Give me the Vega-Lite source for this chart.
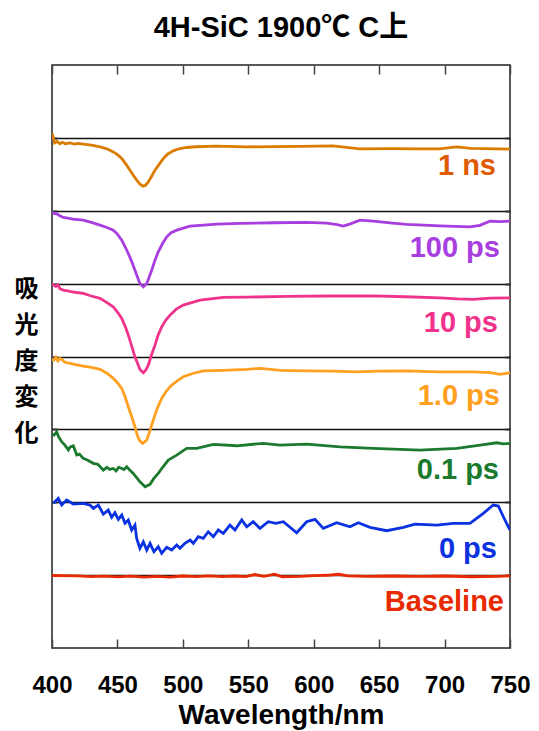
{
  "$schema": "https://vega.github.io/schema/vega-lite/v6.json",
  "width": 458,
  "height": 583,
  "autosize": "none",
  "padding": {"left": 52, "top": 65, "right": 29, "bottom": 83},
  "title": {
    "text": "4H-SiC 1900℃ C上",
    "font": "Liberation Sans, Noto Sans CJK JP",
    "fontSize": 29,
    "fontWeight": "bold",
    "color": "#000000",
    "anchor": "middle",
    "offset": 21
  },
  "config": {
    "view": {"stroke": "#222222", "strokeWidth": 1.5},
    "axis": {"domain": false}
  },
  "datasets": {
    "spectra": [
      {"s": "1 ns", "x": 400, "y": 7.04}, {"s": "1 ns", "x": 400.5, "y": 7.04}, {"s": "1 ns", "x": 402, "y": 6.93}, {"s": "1 ns", "x": 404, "y": 6.95}, {"s": "1 ns", "x": 406, "y": 6.92}, {"s": "1 ns", "x": 408, "y": 6.94}, {"s": "1 ns", "x": 410, "y": 6.92}, {"s": "1 ns", "x": 413.8, "y": 6.93}, {"s": "1 ns", "x": 417, "y": 6.915}, {"s": "1 ns", "x": 420, "y": 6.925}, {"s": "1 ns", "x": 423.9, "y": 6.914}, {"s": "1 ns", "x": 430, "y": 6.9}, {"s": "1 ns", "x": 436.7, "y": 6.877}, {"s": "1 ns", "x": 442, "y": 6.85}, {"s": "1 ns", "x": 446.8, "y": 6.808}, {"s": "1 ns", "x": 450, "y": 6.77}, {"s": "1 ns", "x": 453.3, "y": 6.717}, {"s": "1 ns", "x": 456.5, "y": 6.64}, {"s": "1 ns", "x": 459.6, "y": 6.557}, {"s": "1 ns", "x": 462, "y": 6.49}, {"s": "1 ns", "x": 464.7, "y": 6.42}, {"s": "1 ns", "x": 467, "y": 6.37}, {"s": "1 ns", "x": 469.3, "y": 6.337}, {"s": "1 ns", "x": 471.5, "y": 6.35}, {"s": "1 ns", "x": 473.6, "y": 6.396}, {"s": "1 ns", "x": 476, "y": 6.47}, {"s": "1 ns", "x": 478.7, "y": 6.557}, {"s": "1 ns", "x": 482, "y": 6.64}, {"s": "1 ns", "x": 485.1, "y": 6.717}, {"s": "1 ns", "x": 488.5, "y": 6.78}, {"s": "1 ns", "x": 492.7, "y": 6.822}, {"s": "1 ns", "x": 497, "y": 6.85}, {"s": "1 ns", "x": 502.9, "y": 6.868}, {"s": "1 ns", "x": 510, "y": 6.878}, {"s": "1 ns", "x": 525.9, "y": 6.886}, {"s": "1 ns", "x": 548.8, "y": 6.877}, {"s": "1 ns", "x": 570, "y": 6.88}, {"s": "1 ns", "x": 590, "y": 6.882}, {"s": "1 ns", "x": 614.7, "y": 6.89}, {"s": "1 ns", "x": 625, "y": 6.87}, {"s": "1 ns", "x": 635, "y": 6.849}, {"s": "1 ns", "x": 660, "y": 6.852}, {"s": "1 ns", "x": 680, "y": 6.85}, {"s": "1 ns", "x": 696, "y": 6.849}, {"s": "1 ns", "x": 709, "y": 6.877}, {"s": "1 ns", "x": 720, "y": 6.855}, {"s": "1 ns", "x": 740, "y": 6.85}, {"s": "1 ns", "x": 750, "y": 6.845},

      {"s": "100 ps", "x": 400, "y": 5.98}, {"s": "100 ps", "x": 401.5, "y": 5.963}, {"s": "100 ps", "x": 404, "y": 5.955}, {"s": "100 ps", "x": 406, "y": 5.93}, {"s": "100 ps", "x": 408.6, "y": 5.908}, {"s": "100 ps", "x": 412, "y": 5.9}, {"s": "100 ps", "x": 416, "y": 5.885}, {"s": "100 ps", "x": 423.9, "y": 5.871}, {"s": "100 ps", "x": 430, "y": 5.84}, {"s": "100 ps", "x": 436.7, "y": 5.802}, {"s": "100 ps", "x": 442, "y": 5.77}, {"s": "100 ps", "x": 446.8, "y": 5.734}, {"s": "100 ps", "x": 450, "y": 5.68}, {"s": "100 ps", "x": 453.3, "y": 5.597}, {"s": "100 ps", "x": 456, "y": 5.5}, {"s": "100 ps", "x": 458.3, "y": 5.414}, {"s": "100 ps", "x": 461, "y": 5.3}, {"s": "100 ps", "x": 463.4, "y": 5.185}, {"s": "100 ps", "x": 465.5, "y": 5.08}, {"s": "100 ps", "x": 467.2, "y": 5.003}, {"s": "100 ps", "x": 469.8, "y": 4.956}, {"s": "100 ps", "x": 472.4, "y": 5.003}, {"s": "100 ps", "x": 474.3, "y": 5.09}, {"s": "100 ps", "x": 476.2, "y": 5.185}, {"s": "100 ps", "x": 478.5, "y": 5.31}, {"s": "100 ps", "x": 481.2, "y": 5.436}, {"s": "100 ps", "x": 484.5, "y": 5.55}, {"s": "100 ps", "x": 487.7, "y": 5.642}, {"s": "100 ps", "x": 491, "y": 5.7}, {"s": "100 ps", "x": 495.3, "y": 5.734}, {"s": "100 ps", "x": 505.5, "y": 5.789}, {"s": "100 ps", "x": 525.9, "y": 5.816}, {"s": "100 ps", "x": 543.7, "y": 5.826}, {"s": "100 ps", "x": 570, "y": 5.835}, {"s": "100 ps", "x": 594.6, "y": 5.84}, {"s": "100 ps", "x": 610, "y": 5.83}, {"s": "100 ps", "x": 618, "y": 5.81}, {"s": "100 ps", "x": 622.6, "y": 5.789}, {"s": "100 ps", "x": 628, "y": 5.82}, {"s": "100 ps", "x": 635.4, "y": 5.871}, {"s": "100 ps", "x": 645.5, "y": 5.857}, {"s": "100 ps", "x": 660, "y": 5.83}, {"s": "100 ps", "x": 671.1, "y": 5.812}, {"s": "100 ps", "x": 696.5, "y": 5.793}, {"s": "100 ps", "x": 719.4, "y": 5.779}, {"s": "100 ps", "x": 727, "y": 5.8}, {"s": "100 ps", "x": 734.7, "y": 5.857}, {"s": "100 ps", "x": 742, "y": 5.85}, {"s": "100 ps", "x": 750, "y": 5.857},

      {"s": "10 ps", "x": 400, "y": 4.99}, {"s": "10 ps", "x": 401.5, "y": 4.979}, {"s": "10 ps", "x": 403, "y": 4.96}, {"s": "10 ps", "x": 404.5, "y": 4.985}, {"s": "10 ps", "x": 406, "y": 4.93}, {"s": "10 ps", "x": 408.6, "y": 4.911}, {"s": "10 ps", "x": 412, "y": 4.9}, {"s": "10 ps", "x": 416, "y": 4.885}, {"s": "10 ps", "x": 423.9, "y": 4.866}, {"s": "10 ps", "x": 430, "y": 4.83}, {"s": "10 ps", "x": 436.7, "y": 4.797}, {"s": "10 ps", "x": 442, "y": 4.74}, {"s": "10 ps", "x": 446.8, "y": 4.682}, {"s": "10 ps", "x": 450, "y": 4.61}, {"s": "10 ps", "x": 453.3, "y": 4.523}, {"s": "10 ps", "x": 456, "y": 4.41}, {"s": "10 ps", "x": 458.3, "y": 4.294}, {"s": "10 ps", "x": 461, "y": 4.14}, {"s": "10 ps", "x": 463.4, "y": 3.996}, {"s": "10 ps", "x": 465.5, "y": 3.9}, {"s": "10 ps", "x": 467.2, "y": 3.823}, {"s": "10 ps", "x": 469.8, "y": 3.777}, {"s": "10 ps", "x": 471.5, "y": 3.81}, {"s": "10 ps", "x": 473.6, "y": 3.882}, {"s": "10 ps", "x": 476, "y": 4.02}, {"s": "10 ps", "x": 478.7, "y": 4.156}, {"s": "10 ps", "x": 481, "y": 4.29}, {"s": "10 ps", "x": 483.8, "y": 4.407}, {"s": "10 ps", "x": 487, "y": 4.5}, {"s": "10 ps", "x": 490.2, "y": 4.568}, {"s": "10 ps", "x": 495, "y": 4.65}, {"s": "10 ps", "x": 500.3, "y": 4.705}, {"s": "10 ps", "x": 513.1, "y": 4.774}, {"s": "10 ps", "x": 530.9, "y": 4.811}, {"s": "10 ps", "x": 548.8, "y": 4.815}, {"s": "10 ps", "x": 580, "y": 4.825}, {"s": "10 ps", "x": 610, "y": 4.83}, {"s": "10 ps", "x": 645.5, "y": 4.833}, {"s": "10 ps", "x": 670, "y": 4.82}, {"s": "10 ps", "x": 696.5, "y": 4.805}, {"s": "10 ps", "x": 710, "y": 4.79}, {"s": "10 ps", "x": 721.9, "y": 4.783}, {"s": "10 ps", "x": 735, "y": 4.8}, {"s": "10 ps", "x": 750, "y": 4.805},

      {"s": "1.0 ps", "x": 400, "y": 3.96}, {"s": "1.0 ps", "x": 401.5, "y": 3.951}, {"s": "1.0 ps", "x": 403, "y": 3.99}, {"s": "1.0 ps", "x": 404.5, "y": 3.94}, {"s": "1.0 ps", "x": 406, "y": 3.975}, {"s": "1.0 ps", "x": 407.4, "y": 3.96}, {"s": "1.0 ps", "x": 410, "y": 3.92}, {"s": "1.0 ps", "x": 413.8, "y": 3.905}, {"s": "1.0 ps", "x": 418, "y": 3.89}, {"s": "1.0 ps", "x": 423.9, "y": 3.868}, {"s": "1.0 ps", "x": 430, "y": 3.85}, {"s": "1.0 ps", "x": 436.7, "y": 3.823}, {"s": "1.0 ps", "x": 442, "y": 3.77}, {"s": "1.0 ps", "x": 446.8, "y": 3.7}, {"s": "1.0 ps", "x": 450, "y": 3.64}, {"s": "1.0 ps", "x": 453.3, "y": 3.562}, {"s": "1.0 ps", "x": 456, "y": 3.44}, {"s": "1.0 ps", "x": 458.3, "y": 3.31}, {"s": "1.0 ps", "x": 461, "y": 3.17}, {"s": "1.0 ps", "x": 463.4, "y": 3.036}, {"s": "1.0 ps", "x": 465, "y": 2.93}, {"s": "1.0 ps", "x": 466.7, "y": 2.853}, {"s": "1.0 ps", "x": 469.3, "y": 2.808}, {"s": "1.0 ps", "x": 472.4, "y": 2.853}, {"s": "1.0 ps", "x": 475, "y": 2.99}, {"s": "1.0 ps", "x": 477.4, "y": 3.128}, {"s": "1.0 ps", "x": 480.5, "y": 3.29}, {"s": "1.0 ps", "x": 483.8, "y": 3.425}, {"s": "1.0 ps", "x": 487.5, "y": 3.53}, {"s": "1.0 ps", "x": 491.5, "y": 3.608}, {"s": "1.0 ps", "x": 496, "y": 3.67}, {"s": "1.0 ps", "x": 500.3, "y": 3.722}, {"s": "1.0 ps", "x": 508, "y": 3.77}, {"s": "1.0 ps", "x": 515.6, "y": 3.804}, {"s": "1.0 ps", "x": 530, "y": 3.81}, {"s": "1.0 ps", "x": 548.8, "y": 3.823}, {"s": "1.0 ps", "x": 558.9, "y": 3.837}, {"s": "1.0 ps", "x": 575, "y": 3.81}, {"s": "1.0 ps", "x": 594.6, "y": 3.804}, {"s": "1.0 ps", "x": 615, "y": 3.8}, {"s": "1.0 ps", "x": 632.8, "y": 3.79}, {"s": "1.0 ps", "x": 650, "y": 3.8}, {"s": "1.0 ps", "x": 671.1, "y": 3.804}, {"s": "1.0 ps", "x": 695, "y": 3.79}, {"s": "1.0 ps", "x": 721.9, "y": 3.79}, {"s": "1.0 ps", "x": 735, "y": 3.78}, {"s": "1.0 ps", "x": 742.3, "y": 3.754}, {"s": "1.0 ps", "x": 750, "y": 3.776},

      {"s": "0.1 ps", "x": 400, "y": 2.93}, {"s": "0.1 ps", "x": 401.5, "y": 2.922}, {"s": "0.1 ps", "x": 403.6, "y": 2.967}, {"s": "0.1 ps", "x": 405, "y": 2.9}, {"s": "0.1 ps", "x": 407.4, "y": 2.83}, {"s": "0.1 ps", "x": 410, "y": 2.78}, {"s": "0.1 ps", "x": 412.5, "y": 2.716}, {"s": "0.1 ps", "x": 414, "y": 2.76}, {"s": "0.1 ps", "x": 416.3, "y": 2.775}, {"s": "0.1 ps", "x": 418.9, "y": 2.647}, {"s": "0.1 ps", "x": 421, "y": 2.66}, {"s": "0.1 ps", "x": 423.9, "y": 2.602}, {"s": "0.1 ps", "x": 427, "y": 2.58}, {"s": "0.1 ps", "x": 431.6, "y": 2.534}, {"s": "0.1 ps", "x": 435, "y": 2.52}, {"s": "0.1 ps", "x": 439.2, "y": 2.442}, {"s": "0.1 ps", "x": 442, "y": 2.48}, {"s": "0.1 ps", "x": 444, "y": 2.45}, {"s": "0.1 ps", "x": 446.8, "y": 2.464}, {"s": "0.1 ps", "x": 449, "y": 2.43}, {"s": "0.1 ps", "x": 451, "y": 2.48}, {"s": "0.1 ps", "x": 453.3, "y": 2.464}, {"s": "0.1 ps", "x": 455, "y": 2.45}, {"s": "0.1 ps", "x": 457.1, "y": 2.487}, {"s": "0.1 ps", "x": 459, "y": 2.45}, {"s": "0.1 ps", "x": 462.1, "y": 2.396}, {"s": "0.1 ps", "x": 465, "y": 2.33}, {"s": "0.1 ps", "x": 467.2, "y": 2.281}, {"s": "0.1 ps", "x": 469, "y": 2.25}, {"s": "0.1 ps", "x": 471.1, "y": 2.213}, {"s": "0.1 ps", "x": 474.9, "y": 2.246}, {"s": "0.1 ps", "x": 478, "y": 2.33}, {"s": "0.1 ps", "x": 481.2, "y": 2.396}, {"s": "0.1 ps", "x": 485, "y": 2.49}, {"s": "0.1 ps", "x": 488.9, "y": 2.579}, {"s": "0.1 ps", "x": 495.3, "y": 2.647}, {"s": "0.1 ps", "x": 502.9, "y": 2.739}, {"s": "0.1 ps", "x": 510.6, "y": 2.739}, {"s": "0.1 ps", "x": 523.3, "y": 2.794}, {"s": "0.1 ps", "x": 541.1, "y": 2.775}, {"s": "0.1 ps", "x": 561.5, "y": 2.808}, {"s": "0.1 ps", "x": 574.2, "y": 2.785}, {"s": "0.1 ps", "x": 594.6, "y": 2.798}, {"s": "0.1 ps", "x": 620.1, "y": 2.761}, {"s": "0.1 ps", "x": 645.5, "y": 2.739}, {"s": "0.1 ps", "x": 681.2, "y": 2.716}, {"s": "0.1 ps", "x": 709.3, "y": 2.739}, {"s": "0.1 ps", "x": 730, "y": 2.79}, {"s": "0.1 ps", "x": 739.8, "y": 2.816}, {"s": "0.1 ps", "x": 745, "y": 2.8}, {"s": "0.1 ps", "x": 750, "y": 2.808},

      {"s": "0 ps", "x": 401, "y": 1.985}, {"s": "0 ps", "x": 404.8, "y": 2.053}, {"s": "0 ps", "x": 407.4, "y": 1.962}, {"s": "0 ps", "x": 411.2, "y": 2.03}, {"s": "0 ps", "x": 416.3, "y": 1.975}, {"s": "0 ps", "x": 423.9, "y": 1.985}, {"s": "0 ps", "x": 429, "y": 1.962}, {"s": "0 ps", "x": 431.6, "y": 1.916}, {"s": "0 ps", "x": 435.4, "y": 1.962}, {"s": "0 ps", "x": 439.2, "y": 1.838}, {"s": "0 ps", "x": 443, "y": 1.893}, {"s": "0 ps", "x": 445.6, "y": 1.793}, {"s": "0 ps", "x": 448.1, "y": 1.856}, {"s": "0 ps", "x": 450.7, "y": 1.765}, {"s": "0 ps", "x": 453.3, "y": 1.824}, {"s": "0 ps", "x": 455.8, "y": 1.711}, {"s": "0 ps", "x": 458.3, "y": 1.756}, {"s": "0 ps", "x": 460.9, "y": 1.619}, {"s": "0 ps", "x": 463.4, "y": 1.687}, {"s": "0 ps", "x": 464.7, "y": 1.505}, {"s": "0 ps", "x": 467.2, "y": 1.368}, {"s": "0 ps", "x": 469.8, "y": 1.458}, {"s": "0 ps", "x": 472.4, "y": 1.344}, {"s": "0 ps", "x": 474.9, "y": 1.436}, {"s": "0 ps", "x": 477.9, "y": 1.321}, {"s": "0 ps", "x": 481.2, "y": 1.39}, {"s": "0 ps", "x": 483.8, "y": 1.299}, {"s": "0 ps", "x": 487.6, "y": 1.381}, {"s": "0 ps", "x": 491.5, "y": 1.344}, {"s": "0 ps", "x": 495.3, "y": 1.413}, {"s": "0 ps", "x": 497.8, "y": 1.368}, {"s": "0 ps", "x": 501.6, "y": 1.436}, {"s": "0 ps", "x": 505.5, "y": 1.481}, {"s": "0 ps", "x": 508, "y": 1.436}, {"s": "0 ps", "x": 511.8, "y": 1.527}, {"s": "0 ps", "x": 515.6, "y": 1.505}, {"s": "0 ps", "x": 519.4, "y": 1.595}, {"s": "0 ps", "x": 523.3, "y": 1.527}, {"s": "0 ps", "x": 527.1, "y": 1.619}, {"s": "0 ps", "x": 530.9, "y": 1.573}, {"s": "0 ps", "x": 536, "y": 1.687}, {"s": "0 ps", "x": 539.8, "y": 1.619}, {"s": "0 ps", "x": 545, "y": 1.756}, {"s": "0 ps", "x": 548.8, "y": 1.664}, {"s": "0 ps", "x": 553.8, "y": 1.733}, {"s": "0 ps", "x": 558.9, "y": 1.642}, {"s": "0 ps", "x": 565.3, "y": 1.733}, {"s": "0 ps", "x": 571, "y": 1.711}, {"s": "0 ps", "x": 576.8, "y": 1.733}, {"s": "0 ps", "x": 587, "y": 1.582}, {"s": "0 ps", "x": 594.6, "y": 1.733}, {"s": "0 ps", "x": 601, "y": 1.765}, {"s": "0 ps", "x": 607.3, "y": 1.642}, {"s": "0 ps", "x": 617.6, "y": 1.719}, {"s": "0 ps", "x": 627.7, "y": 1.664}, {"s": "0 ps", "x": 634.1, "y": 1.719}, {"s": "0 ps", "x": 643, "y": 1.656}, {"s": "0 ps", "x": 655.8, "y": 1.609}, {"s": "0 ps", "x": 668.5, "y": 1.656}, {"s": "0 ps", "x": 677.4, "y": 1.701}, {"s": "0 ps", "x": 694, "y": 1.687}, {"s": "0 ps", "x": 706.7, "y": 1.711}, {"s": "0 ps", "x": 719.4, "y": 1.711}, {"s": "0 ps", "x": 729.6, "y": 1.848}, {"s": "0 ps", "x": 737.2, "y": 1.962}, {"s": "0 ps", "x": 741.1, "y": 1.948}, {"s": "0 ps", "x": 744.9, "y": 1.801}, {"s": "0 ps", "x": 748.7, "y": 1.664}, {"s": "0 ps", "x": 750, "y": 1.62},

      {"s": "Baseline", "x": 400, "y": 0.995}, {"s": "Baseline", "x": 420, "y": 0.99}, {"s": "Baseline", "x": 430, "y": 0.98}, {"s": "Baseline", "x": 440, "y": 0.985}, {"s": "Baseline", "x": 450, "y": 0.975}, {"s": "Baseline", "x": 460, "y": 0.985}, {"s": "Baseline", "x": 470, "y": 0.972}, {"s": "Baseline", "x": 480, "y": 0.982}, {"s": "Baseline", "x": 490, "y": 0.972}, {"s": "Baseline", "x": 500, "y": 0.988}, {"s": "Baseline", "x": 510, "y": 0.98}, {"s": "Baseline", "x": 520, "y": 0.99}, {"s": "Baseline", "x": 530, "y": 0.98}, {"s": "Baseline", "x": 540, "y": 0.988}, {"s": "Baseline", "x": 548, "y": 0.98}, {"s": "Baseline", "x": 555, "y": 1.008}, {"s": "Baseline", "x": 562, "y": 0.982}, {"s": "Baseline", "x": 570, "y": 1.012}, {"s": "Baseline", "x": 576, "y": 0.978}, {"s": "Baseline", "x": 590, "y": 0.982}, {"s": "Baseline", "x": 600, "y": 0.992}, {"s": "Baseline", "x": 610, "y": 0.998}, {"s": "Baseline", "x": 619, "y": 1.012}, {"s": "Baseline", "x": 626, "y": 0.99}, {"s": "Baseline", "x": 640, "y": 0.982}, {"s": "Baseline", "x": 660, "y": 0.988}, {"s": "Baseline", "x": 680, "y": 0.982}, {"s": "Baseline", "x": 700, "y": 0.988}, {"s": "Baseline", "x": 720, "y": 0.978}, {"s": "Baseline", "x": 740, "y": 0.984}, {"s": "Baseline", "x": 750, "y": 0.99}
    ],
    "labels": [
      {"s": "1 ns", "x": 739.3, "y": 6.49},
      {"s": "100 ps", "x": 742.3, "y": 5.367},
      {"s": "10 ps", "x": 740.8, "y": 4.335},
      {"s": "1.0 ps", "x": 742.3, "y": 3.333},
      {"s": "0.1 ps", "x": 741.6, "y": 2.318},
      {"s": "0 ps", "x": 740.0, "y": 1.235},
      {"s": "Baseline", "x": 745.4, "y": 0.508}
    ]
  },
  "layer": [
    {
      "data": {"name": "spectra"},
      "mark": {"type": "line", "strokeWidth": 2.8, "clip": true},
      "encoding": {
        "x": {
          "field": "x", "type": "quantitative",
          "scale": {"domain": [400, 750], "nice": false, "zero": false},
          "axis": {
            "orient": "bottom",
            "values": [400, 450, 500, 550, 600, 650, 700, 750],
            "grid": false,
            "tickSize": -9, "tickColor": "#444444", "tickWidth": 1.5,
            "labelFont": "Liberation Sans", "labelFontSize": 24, "labelFontWeight": "bold",
            "labelColor": "#000000", "labelPadding": 34, "labelFlush": false,
            "title": "Wavelength/nm",
            "titleFont": "Liberation Sans", "titleFontSize": 28, "titleFontWeight": "bold",
            "titleColor": "#000000", "titlePadding": 4
          }
        },
        "y": {
          "field": "y", "type": "quantitative",
          "scale": {"domain": [0, 8], "nice": false, "zero": false},
          "axis": {
            "orient": "left",
            "values": [1, 2, 3, 4, 5, 6, 7],
            "grid": true, "gridColor": "#111111", "gridWidth": 1.4, "gridOpacity": 1,
            "tickSize": -5, "tickColor": "#333333", "tickWidth": 2,
            "labels": false,
            "title": ["吸", "光", "度", "変", "化"],
            "titleAngle": 0,
            "titleFont": "Noto Sans CJK JP", "titleFontSize": 24, "titleFontWeight": "bold",
            "titleColor": "#000000",
            "titleLineHeight": 36,
            "titleAlign": "center", "titleBaseline": "middle",
            "titleX": -26, "titleY": 224
          }
        },
        "color": {
          "field": "s", "type": "nominal", "legend": null,
          "scale": {
            "domain": ["1 ns", "100 ps", "10 ps", "1.0 ps", "0.1 ps", "0 ps", "Baseline"],
            "range": ["#d97c00", "#a83de0", "#f0338a", "#ffa020", "#1c7a2e", "#0a32e0", "#e82a00"]
          }
        }
      }
    },
    {
      "data": {"name": "labels"},
      "mark": {"type": "text", "align": "right", "baseline": "alphabetic", "font": "Liberation Sans", "fontSize": 29, "fontWeight": "bold"},
      "encoding": {
        "x": {
          "field": "x", "type": "quantitative",
          "axis": {
            "orient": "top",
            "values": [400, 450, 500, 550, 600, 650, 700, 750],
            "grid": false, "labels": false, "title": null,
            "tickSize": -9, "tickColor": "#444444", "tickWidth": 1.5
          }
        },
        "y": {
          "field": "y", "type": "quantitative",
          "axis": {
            "orient": "right",
            "values": [1, 2, 3, 4, 5, 6, 7],
            "grid": false, "labels": false, "title": null,
            "tickSize": -5, "tickColor": "#333333", "tickWidth": 2
          }
        },
        "text": {"field": "s"},
        "color": {
          "field": "s", "type": "nominal", "legend": null,
          "scale": {
            "domain": ["1 ns", "100 ps", "10 ps", "1.0 ps", "0.1 ps", "0 ps", "Baseline"],
            "range": ["#e05a00", "#a83de0", "#f0338a", "#ffa020", "#1c7a2e", "#0a32e0", "#e82a00"]
          }
        }
      }
    }
  ],
  "resolve": {"scale": {"color": "independent"}}
}
